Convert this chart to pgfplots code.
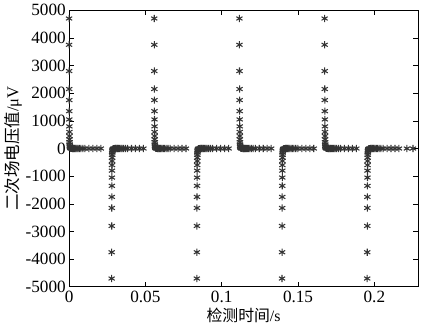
\documentclass[border=0pt]{standalone}
\usepackage{pgfplots}
\usepackage{pgfplotstable}
\pgfplotsset{compat=1.18}
\usepackage{fontspec}
\setmainfont{Liberation Serif}
\newfontfamily\tnr{Liberation Serif}
\newfontfamily\cjk{Noto Sans CJK SC}
\pgfplotstableread{
t v
0.00000 4700
0.00003 3750
0.00006 2800
0.00009 2150
0.00012 1750
0.00015 1350
0.00018 1050
0.00021 800
0.00024 600
0.00027 450
0.00030 330
0.00035 230
0.00040 150
0.00050 90
0.00060 50
0.00080 25
0.00100 12
0.00120 8
0.00150 5
0.00180 3
0.00220 2
0.00260 1
0.00300 0
0.00350 0
0.00400 0
0.00450 0
0.00520 0
0.00600 0
0.00680 0
0.00780 0
0.00900 0
0.01040 0
0.01300 0
0.01560 0
0.01820 0
0.02080 0
}\pulse
\pgfplotstableread{
t v
0.0260 0
0.0300 0
}\extra
\pgfplotsset{pst/.style={only marks, mark=asterisk, mark size=2.7pt, color=black!80, mark options={line width=0.8pt}}}
\begin{document}
\begin{tikzpicture}[font=\tnr]
\begin{axis}[
  scale only axis,
  width=264pt, height=209.25pt,
  xmin=0, xmax=0.2286, ymin=-5000, ymax=5000,
  xtick={0,0.05,0.1,0.15,0.2},
  xticklabels={0,0.05,0.1,0.15,0.2},
  ytick={-5000,-4000,...,5000},
  tick align=inside,
  major tick length=3.5pt,
  tick style={black, line width=0.5pt},
  axis line style={black, line width=0.7pt},
  scaled x ticks=false, scaled y ticks=false,
  /pgf/number format/assume math mode=true,
  /pgf/number format/1000 sep={},
  ticklabel style={font=\tnr\fontsize{13}{15}\selectfont},
  yticklabel style={xshift=1pt},
  xlabel={{\cjk 检测时间}/s},
  ylabel={{\cjk 二次场电压值}/μV},
  xlabel style={font=\tnr\fontsize{12}{14}\selectfont, yshift=3pt},
  ylabel style={font=\tnr\fontsize{12.5}{14}\selectfont, yshift=-4pt},
]
\addplot[pst] table[x expr=\thisrow{t}+0.0000, y expr=\thisrow{v}] {\pulse};
\addplot[pst] table[x expr=\thisrow{t}+0.0279, y expr=-\thisrow{v}] {\pulse};
\addplot[pst] table[x expr=\thisrow{t}+0.0558, y expr=\thisrow{v}] {\pulse};
\addplot[pst] table[x expr=\thisrow{t}+0.0837, y expr=-\thisrow{v}] {\pulse};
\addplot[pst] table[x expr=\thisrow{t}+0.1116, y expr=\thisrow{v}] {\pulse};
\addplot[pst] table[x expr=\thisrow{t}+0.1395, y expr=-\thisrow{v}] {\pulse};
\addplot[pst] table[x expr=\thisrow{t}+0.1674, y expr=\thisrow{v}] {\pulse};
\addplot[pst] table[x expr=\thisrow{t}+0.1953, y expr=-\thisrow{v}] {\pulse};
\addplot[pst] table[x expr=\thisrow{t}+0.1953, y expr=-\thisrow{v}] {\extra};
\end{axis}
\path ([xshift=-49.5pt, yshift=-33.75pt]current axis.south west) rectangle ([xshift=3pt, yshift=6.75pt]current axis.north east);
\end{tikzpicture}
\end{document}
